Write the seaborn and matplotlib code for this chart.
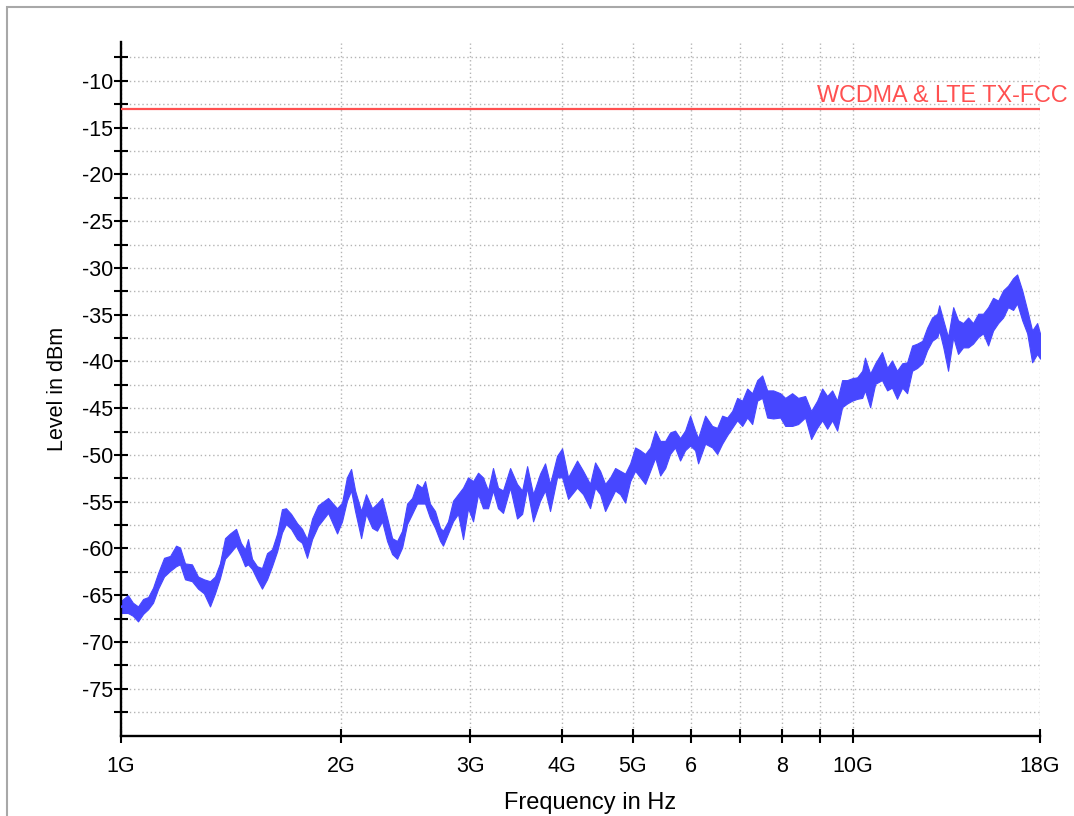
import numpy as np
import pandas as pd
import matplotlib
matplotlib.use("Agg")
import matplotlib.pyplot as plt
import matplotlib.transforms as mtransforms
from matplotlib.patches import Rectangle
from matplotlib.ticker import NullLocator
import seaborn as sns

# ---- data (frequency in GHz, level in dBm) ----
freq_ghz = [
    1.000, 1.022, 1.038, 1.055, 1.072, 1.089, 1.106, 1.124, 1.145, 1.167,
    1.189, 1.204, 1.223, 1.250, 1.274, 1.298, 1.323, 1.344, 1.365, 1.387,
    1.409, 1.436, 1.458, 1.477, 1.491, 1.510, 1.534, 1.558, 1.583, 1.608,
    1.634, 1.659, 1.680, 1.707, 1.740, 1.767, 1.795, 1.824, 1.858, 1.918,
    1.973, 2.004, 2.035, 2.062, 2.088, 2.128, 2.161, 2.203, 2.237, 2.273,
    2.309, 2.346, 2.383, 2.421, 2.459, 2.498, 2.537, 2.577, 2.602, 2.642,
    2.685, 2.728, 2.753, 2.797, 2.841, 2.886, 2.932, 2.979, 3.026, 3.074,
    3.122, 3.172, 3.222, 3.273, 3.325, 3.400, 3.475, 3.531, 3.587, 3.655,
    3.736, 3.795, 3.855, 3.941, 4.004, 4.080, 4.197, 4.277, 4.372, 4.442,
    4.512, 4.584, 4.657, 4.731, 4.806, 4.882, 4.960, 5.038, 5.118, 5.199,
    5.282, 5.366, 5.451, 5.538, 5.623, 5.712, 5.803, 5.895, 5.989, 6.084,
    6.141, 6.279, 6.419, 6.521, 6.624, 6.729, 6.836, 6.944, 7.055, 7.167,
    7.280, 7.396, 7.513, 7.632, 7.778, 7.951, 8.077, 8.254, 8.411, 8.599,
    8.763, 8.930, 9.073, 9.216, 9.362, 9.510, 9.660, 9.813, 9.968, 10.13,
    10.29, 10.38, 10.55, 10.72, 10.95, 11.13, 11.30, 11.48, 11.67, 11.85,
    12.04, 12.23, 12.43, 12.62, 12.82, 13.03, 13.11, 13.28, 13.48, 13.70,
    13.91, 14.13, 14.36, 14.58, 14.82, 15.05, 15.29, 15.53, 15.78, 16.03,
    16.28, 16.54, 16.75, 17.02, 17.29, 17.56, 17.84, 18.00,
]
level_hi = [
    -65.6, -65.0, -65.8, -66.2, -65.4, -65.2, -64.2, -62.6, -61.0, -60.8,
    -59.7, -59.9, -61.6, -61.7, -63.0, -63.3, -63.5, -63.0, -61.6, -58.9,
    -58.4, -57.9, -59.4, -60.1, -59.0, -61.1, -61.9, -62.1, -60.5, -60.1,
    -58.4, -55.8, -55.7, -56.3, -57.3, -57.9, -59.0, -56.8, -55.4, -54.6,
    -55.7, -55.1, -52.4, -51.5, -53.8, -56.0, -54.2, -55.7, -55.2, -54.6,
    -56.7, -58.9, -59.2, -58.1, -55.2, -54.6, -53.1, -53.5, -52.8, -55.2,
    -56.0, -57.8, -58.1, -57.1, -54.9, -54.2, -53.5, -52.4, -52.8, -51.9,
    -52.4, -53.8, -51.4, -53.5, -53.8, -51.4, -53.1, -53.8, -51.2, -54.2,
    -52.0, -50.9, -53.1, -50.1, -49.3, -52.4, -50.6, -51.7, -53.1, -50.8,
    -51.7, -53.1, -52.4, -51.4, -51.7, -52.0, -50.9, -49.2, -49.5, -49.9,
    -49.2, -47.4, -48.5, -48.5, -47.6, -47.4, -48.2, -47.4, -45.8, -47.4,
    -48.2, -45.8, -46.9, -47.1, -45.8, -46.0, -45.3, -43.9, -44.2, -42.9,
    -43.4, -42.0, -41.5, -43.1, -43.1, -43.4, -43.9, -43.4, -43.9, -43.7,
    -45.3, -44.2, -42.9, -43.7, -43.1, -44.2, -42.0, -42.0, -41.8, -41.7,
    -41.0, -39.6, -41.3, -40.2, -39.0, -40.7, -39.9, -41.0, -40.2, -40.1,
    -38.3, -38.1, -37.8, -36.4, -35.3, -34.9, -34.0, -35.6, -37.4, -34.2,
    -35.6, -35.9, -35.3, -35.9, -34.9, -34.9, -34.2, -33.2, -33.5, -32.4,
    -31.9, -31.1, -30.7, -32.4, -34.5, -36.7, -35.9, -37.0,
]
level_lo = [
    -66.9, -66.9, -67.2, -67.8, -67.0, -66.5, -65.8, -64.3, -63.0, -62.4,
    -61.9, -61.7, -63.3, -63.5, -64.3, -64.8, -66.2, -64.8, -63.2, -61.1,
    -60.5, -59.7, -60.8, -61.9, -61.7, -62.2, -63.3, -64.3, -63.3, -61.9,
    -60.3, -58.3, -57.4, -57.9, -59.0, -59.4, -61.0, -59.0, -57.6, -56.2,
    -58.4, -57.1, -54.9, -53.8, -56.0, -58.9, -56.3, -57.8, -58.1, -57.1,
    -59.2, -60.6, -61.1, -59.9, -57.4, -56.3, -55.2, -55.2, -55.2, -56.7,
    -57.8, -59.2, -59.7, -58.4, -57.1, -56.3, -59.0, -55.7, -57.1, -54.2,
    -55.7, -55.7, -53.8, -55.7, -56.2, -53.5, -56.8, -56.3, -53.5, -57.1,
    -54.9, -53.8, -56.0, -52.4, -52.4, -54.7, -53.5, -54.2, -55.7, -53.5,
    -54.2, -56.0, -54.9, -53.8, -54.2, -55.1, -52.8, -51.7, -52.4, -53.1,
    -51.7, -50.3, -52.2, -51.4, -49.9, -49.2, -50.6, -49.5, -49.0, -49.5,
    -50.9, -48.8, -49.2, -49.9, -48.8, -47.9, -47.1, -46.3, -46.9, -46.0,
    -46.7, -44.2, -43.9, -46.0, -46.1, -46.0, -46.9, -46.9, -46.7, -46.0,
    -48.3, -47.1, -46.3, -47.2, -46.3, -47.4, -44.9, -44.5, -44.2, -44.0,
    -43.9, -43.1, -44.9, -42.4, -42.0, -43.1, -42.8, -44.0, -42.8, -43.4,
    -41.0, -40.7, -40.2, -38.8, -37.8, -37.4, -36.7, -38.5, -41.0, -37.4,
    -39.2, -38.5, -38.5, -38.1, -37.4, -37.0, -38.3, -36.7, -35.9, -35.3,
    -34.2, -34.5, -33.8, -35.6, -37.0, -40.1, -39.2, -39.7,
]

limit_level = -13.0
limit_label = "WCDMA & LTE TX-FCC"

xtick_vals = [1, 2, 3, 4, 5, 6, 7, 8, 9, 10, 18]
xtick_labels = ["1G", "2G", "3G", "4G", "5G", "6", "", "8", "", "10G", "18G"]
ytick_major = list(range(-75, -9, 5))
ytick_minor = [-77.5, -72.5, -67.5, -62.5, -57.5, -52.5, -47.5, -42.5,
               -37.5, -32.5, -27.5, -22.5, -17.5, -12.5, -7.5]

trace_blue = "#4747ff"
limit_red = "#ff5050"
grid_grey = "#b4b4b4"

# ---- style ----
sns.set_style("white")
plt.rcParams["font.family"] = ["Liberation Sans", "DejaVu Sans"]
plt.rcParams["axes.unicode_minus"] = False
plt.rcParams["text.color"] = "black"
plt.rcParams["axes.labelcolor"] = "black"

fig = plt.figure(figsize=(10.74, 8.16), dpi=100)
fig.patch.set_facecolor("white")
ax = fig.add_axes([121 / 1074, 1 - 735.5 / 816, 919 / 1074, 693 / 816])

# light grey frame around the whole picture (left/top edges visible)
fig.patches.append(Rectangle((7 / 1074, -0.2), 1.2, 0.2 + 1 - 7 / 816,
                             transform=fig.transFigure, fill=False,
                             edgecolor="#a8a8a8", lw=1.5))

ax.set_xscale("log")

# long form: low and high envelope per frequency, band = min..max
df = pd.DataFrame({
    "freq": freq_ghz + freq_ghz,
    "level": level_lo + level_hi,
})
sns.lineplot(data=df, x="freq", y="level", ax=ax, estimator="mean",
             errorbar=("pi", 100), color=trace_blue, lw=1.8,
             err_kws={"alpha": 1.0, "lw": 0.8, "edgecolor": trace_blue},
             zorder=3)

# limit line
ax.plot([freq_ghz[0], freq_ghz[-1]], [limit_level, limit_level],
        color=limit_red, lw=1.6, zorder=4)
trans = mtransforms.blended_transform_factory(ax.transAxes, ax.transData)
ax.text(1.0305, limit_level + 0.7, limit_label, transform=trans,
        ha="right", va="baseline", color=limit_red, fontsize=16.8,
        clip_on=False)

ax.set_xlim(1, 18)
ax.set_ylim(-80, -5.9)

ax.set_xticks(xtick_vals, labels=xtick_labels)
ax.xaxis.set_minor_locator(NullLocator())
ax.set_yticks(ytick_major, labels=[str(v) for v in ytick_major])
ax.set_yticks(ytick_minor, minor=True)

ax.tick_params(axis="both", which="both", direction="inout", length=10,
               width=1.5, color="black", labelcolor="black", labelsize=15.5,
               bottom=True, left=True, top=False, right=False)
ax.tick_params(axis="x", pad=10)
ax.tick_params(axis="y", pad=0.5)

ax.grid(True, axis="x", which="major", color=grid_grey, lw=1.0,
        linestyle=(0, (1, 2)))
ax.grid(True, axis="y", which="both", color=grid_grey, lw=1.0,
        linestyle=(0, (1, 2)))
ax.set_axisbelow(True)

for side in ["top", "right"]:
    ax.spines[side].set_visible(False)
for side in ["left", "bottom"]:
    ax.spines[side].set_color("black")
    ax.spines[side].set_linewidth(1.7)

ax.set_xlabel("Frequency in Hz", fontsize=17, color="black")
ax.set_ylabel("Level in dBm", fontsize=15.5, color="black")
ax.xaxis.set_label_coords(0.510, -0.082)
ax.yaxis.set_label_coords(-0.058, 0.5)

fig.savefig("out.png", dpi=100, facecolor="white")
